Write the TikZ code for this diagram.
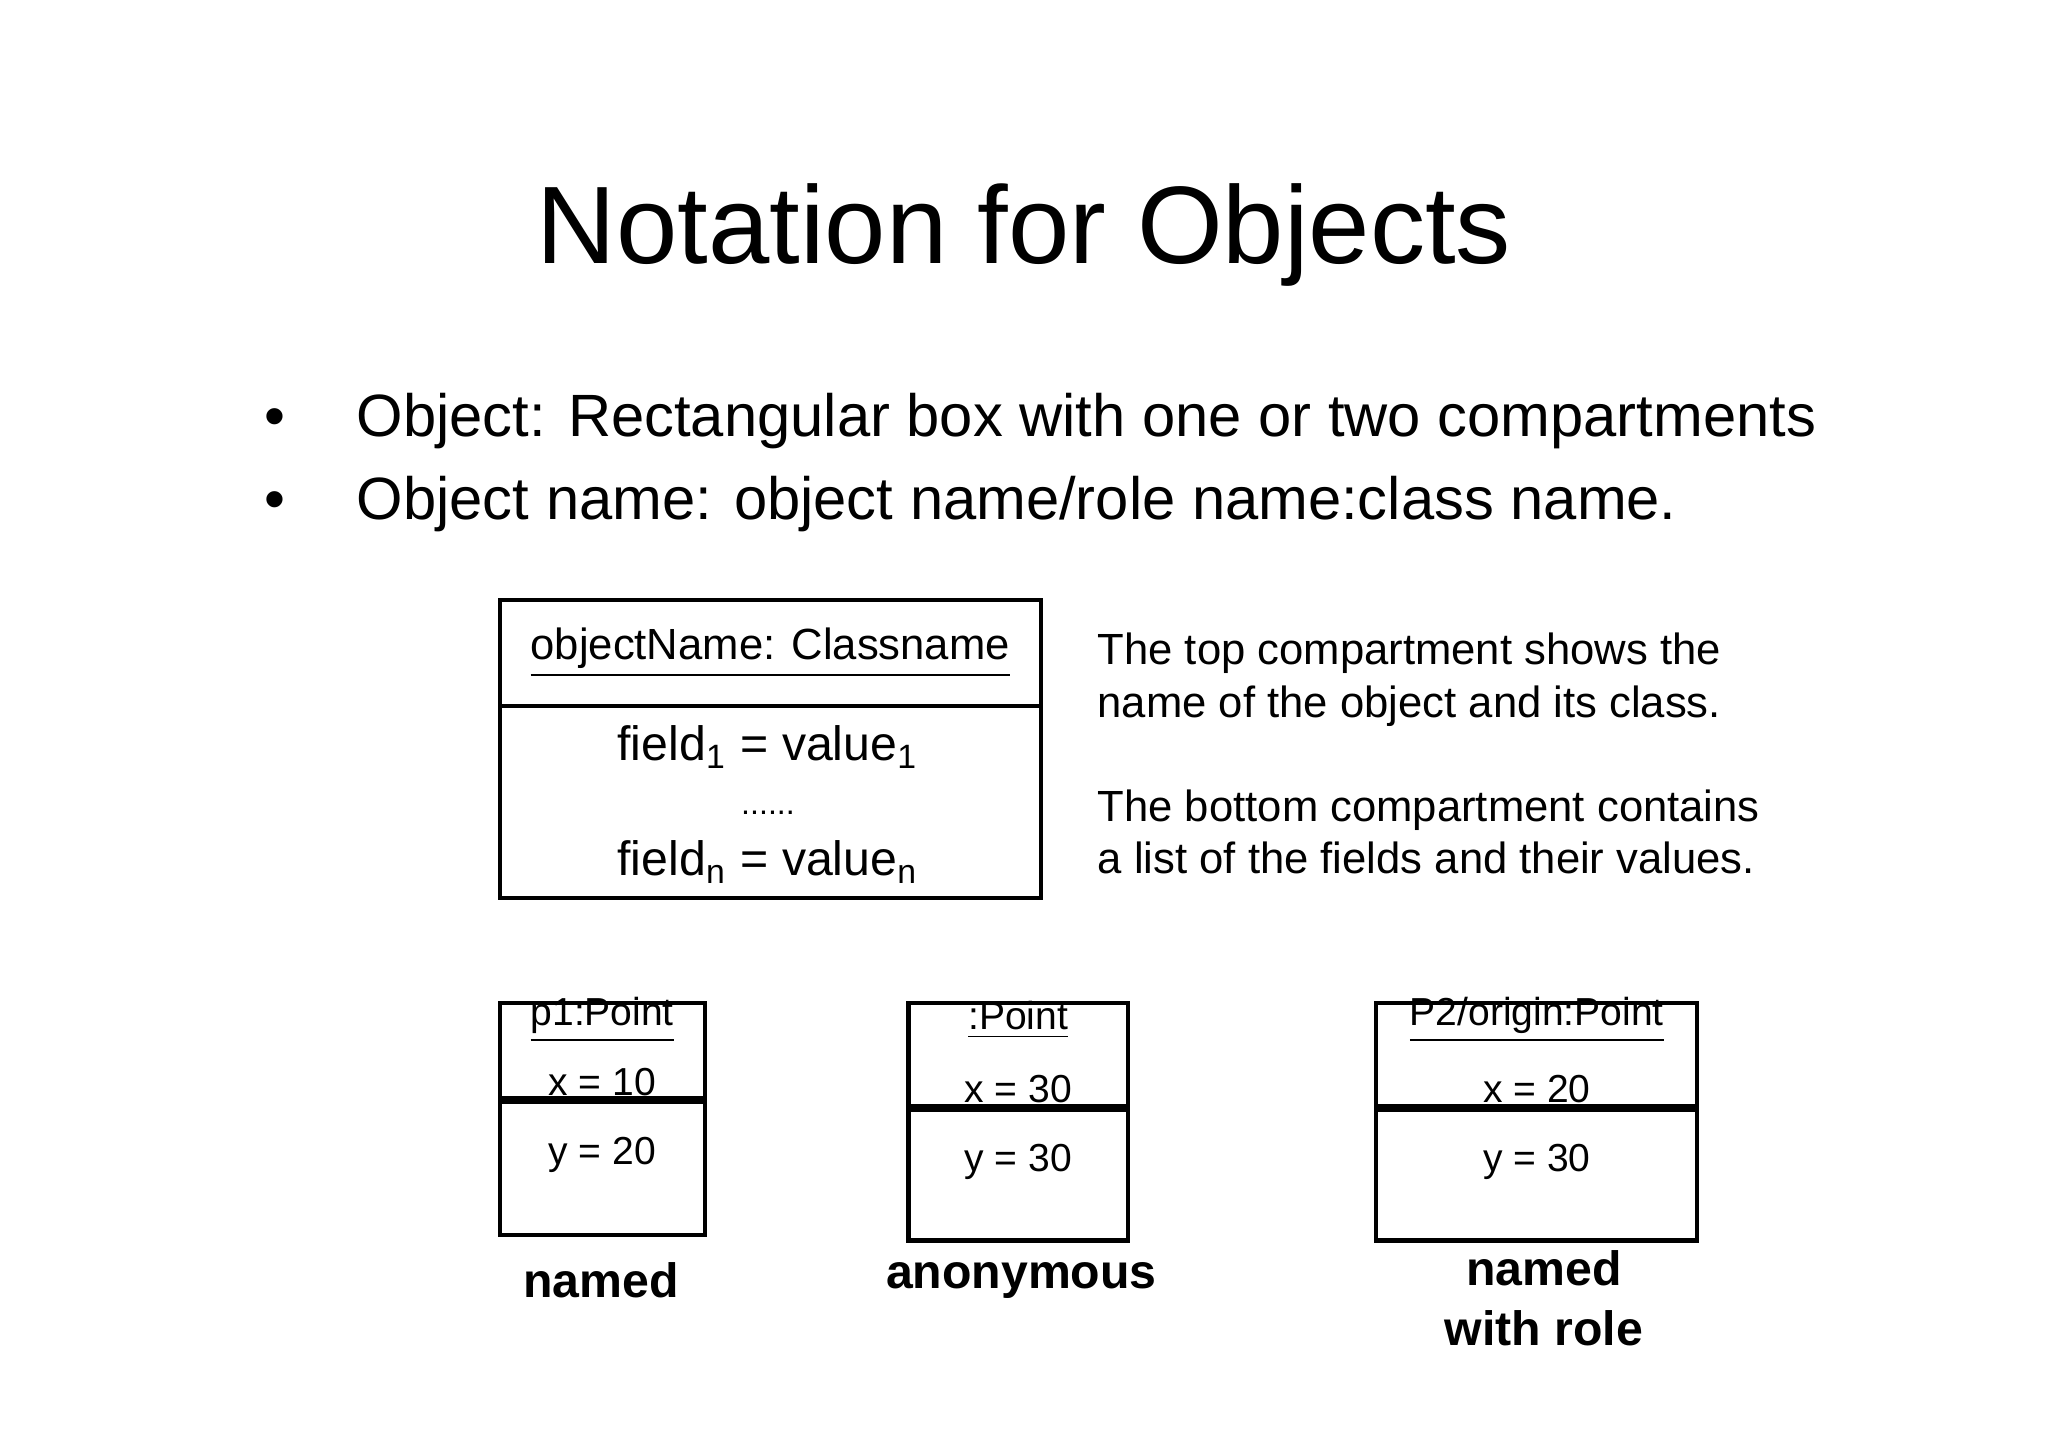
\documentclass[tikz,border=0pt]{standalone}
\usepackage{fontspec}
\setmainfont{Liberation Sans}
\usetikzlibrary{positioning, calc}
\tikzset{
  objtop/.style={draw, line width=0.9pt, anchor=north west, inner sep=0pt, align=center},
  objbot/.style={draw, line width=0.9pt, anchor=north west, inner sep=0pt, align=center},
  kind/.style={font=\fontsize{10.5}{13}\selectfont\bfseries, align=center},
  note/.style={font=\fontsize{9.5}{11.5}\selectfont, align=left, anchor=north west}
}
\begin{document}
\begin{tikzpicture}[x=0.01cm, y=-0.01cm]
\useasboundingbox (0,0) rectangle (1568,1108);
% title and bullets
\node (title) at (784,180) {\fontsize{24}{28}\selectfont Notation for Objects};
\node[anchor=west, font=\fontsize{13}{16}\selectfont] (b1) at (190,322) {\textbullet\hspace{1.2em}Object: Rectangular box with one or two compartments};
\node[anchor=west, font=\fontsize{13}{16}\selectfont] (b2) at (190,386) {\textbullet\hspace{1.2em}Object name: object name/role name:class name.};

% general object
\node[objtop, minimum width=4.14cm, minimum height=0.81cm, font=\fontsize{9.5}{11}\selectfont] (gtop) at (381,458) {\underline{objectName: Classname}};
\node[objbot, minimum width=4.14cm, minimum height=1.47cm, font=\fontsize{10.5}{12}\selectfont] (gbot) at (381,539) {};
\node[font=\fontsize{10.5}{12}\selectfont] (f1) at (588,572) {field\textsubscript{1} = value\textsubscript{1}};
\node[font=\fontsize{7}{8}\selectfont] (fdots) at (588,622) {......};
\node[font=\fontsize{10.5}{12}\selectfont] (fn) at (588,660) {field\textsubscript{n} = value\textsubscript{n}};
\node[note] (n1) at (828,472) {The top compartment shows the\\name of the object and its class.};
\node[note] (n2) at (828,592) {The bottom compartment contains\\a list of the fields and their values.};

% examples
\foreach \nm/\x/\w/\ht/\hb/\lbl/\fa/\fb in {p1/381/157/73/102/p1:Point/10/20, anon/694/168/79/100/:Point/30/30, p2/1052/246/79/100/P2\slash origin:Point/20/30}{
  \node[objtop, minimum width=\w*0.01cm, minimum height=\ht*0.01cm] (\nm top) at (\x,766) {};
  \node[font=\fontsize{8.5}{10}\selectfont] (\nm name) at ($(\nm top.north)+(0,26)$) {\underline{\lbl}};
  \node[objbot, minimum width=\w*0.01cm, minimum height=\hb*0.01cm, font=\fontsize{8.5}{15}\selectfont] (\nm bot) at (\nm top.south west) {x = \fa\\y = \fb};
}
\node[kind] (k1) at (460,980) {named};
\node[kind] (k2) at (782,980) {anonymous};
\node[kind] (k3) at (1182,994) {named\\with role};
\end{tikzpicture}
\end{document}
